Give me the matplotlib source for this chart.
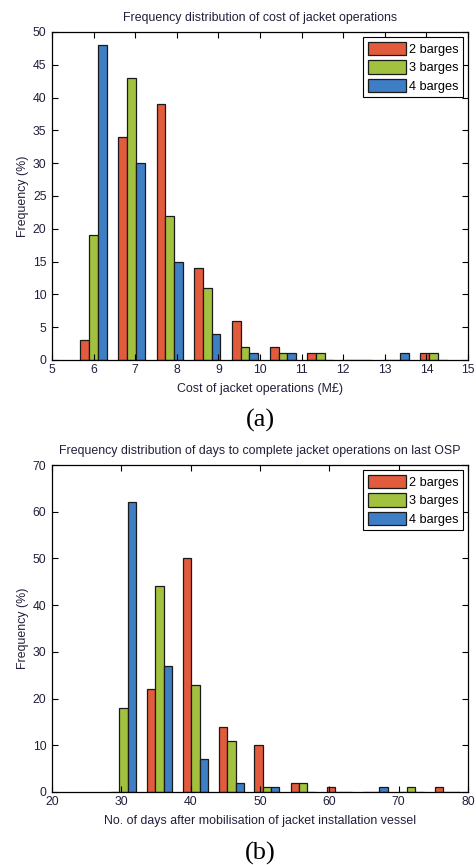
from matplotlib import pyplot as plt
import numpy as np

plt.rcParams["font.family"] = ["Liberation Sans", "DejaVu Sans"]
plt.rcParams["font.size"] = 8.5

labels = ['2 barges', '3 barges', '4 barges']
colors = ['#E15B3C', '#A2C13E', '#3E7EC4']

# (a) cost of jacket operations
cost_centres = [6.0, 6.91, 7.83, 8.73, 9.64, 10.55, 11.45, 12.36, 13.27, 14.17]
cost_2 = [3, 34, 39, 14, 6, 2, 1, 0, 0, 1]
cost_3 = [19, 43, 22, 11, 2, 1, 1, 0, 0, 1]
cost_4 = [48, 30, 15, 4, 1, 1, 0, 0, 1, 0]

# (b) days to complete jacket operations on last OSP
days_centres = [30.3, 35.5, 40.7, 45.9, 51.0, 56.2, 61.4, 66.6, 71.8, 77.0]
days_2 = [0, 22, 50, 14, 10, 2, 1, 0, 0, 1]
days_3 = [18, 44, 23, 11, 1, 2, 0, 0, 1, 0]
days_4 = [62, 27, 7, 2, 1, 0, 0, 1, 0, 0]

W, H = 476, 865
fig = plt.figure(figsize=(W / 100, H / 100), dpi=100)
txt = '#1f1f3a'


def panel(rect, centres, series, width, title, xlabel, xlim, ylim, xticks, yticks, tag, tag_y):
    l, t, r, b = rect
    ax = fig.add_axes([l / W, 1 - b / H, (r - l) / W, (b - t) / H])
    x = np.array(centres)
    for i, (vals, lab, c) in enumerate(zip(series, labels, colors)):
        ax.bar(x + (i - 1) * width, vals, width, color=c, edgecolor='#1a1a1a',
               linewidth=0.9, label=lab, align='center')
    ax.set_xlim(*xlim)
    ax.set_ylim(*ylim)
    ax.set_xticks(xticks)
    ax.set_yticks(yticks)
    ax.tick_params(direction='in', top=True, right=True, length=4, width=0.8,
                   labelsize=8.8, labelcolor=txt)
    ax.tick_params(axis='x', pad=3)
    ax.tick_params(axis='y', pad=4)
    for s in ax.spines.values():
        s.set_linewidth(0.9)
    ax.set_title(title, fontsize=8.9, color=txt, pad=8)
    ax.set_xlabel(xlabel, fontsize=8.9, color=txt, labelpad=5)
    ax.set_ylabel('Frequency (%)', fontsize=8.9, color=txt, labelpad=3)
    leg = ax.legend(loc='upper right', fontsize=9.2, fancybox=False, framealpha=1,
                    edgecolor='black', borderaxespad=0.4, handlelength=3.0,
                    handleheight=1.25, handletextpad=0.2, labelspacing=0.35,
                    borderpad=0.35)
    leg.get_frame().set_linewidth(0.8)
    fig.text(0.5 * (l + r) / W, 1 - tag_y / H, tag, ha='center', va='center',
             fontsize=19, family=['Liberation Serif', 'DejaVu Serif'])
    return ax


panel((52, 32, 468, 360), cost_centres, [cost_2, cost_3, cost_4], 0.21,
      'Frequency distribution of cost of jacket operations',
      'Cost of jacket operations (M\u00a3)', (5, 15), (0, 50),
      range(5, 16), range(0, 51, 5), '(a)', 420)

panel((52, 465, 468, 792), days_centres, [days_2, days_3, days_4], 1.2,
      'Frequency distribution of days to complete jacket operations on last OSP',
      'No. of days after mobilisation of jacket installation vessel', (20, 80), (0, 70),
      range(20, 81, 10), range(0, 71, 10), '(b)', 853)

fig.savefig('out.png', dpi=100)
